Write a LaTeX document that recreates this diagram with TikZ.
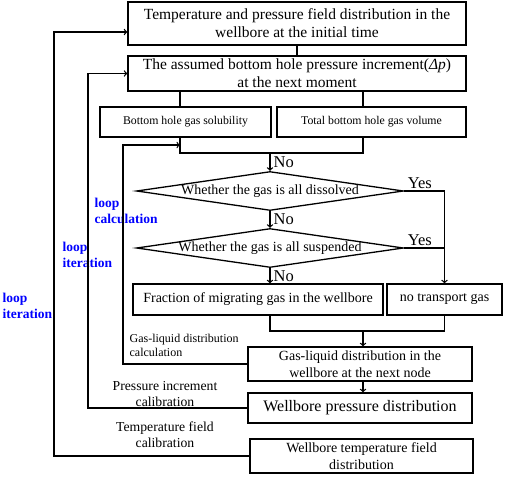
\documentclass[tikz,border=0pt]{standalone}
\usepackage{fontspec}
\setmainfont{Liberation Serif}
\usetikzlibrary{shapes.geometric}

\tikzset{every picture/.style={line width=1.3pt}}
\tikzset{
  procbox/.style={draw, rectangle, inner sep=1pt, align=center, font=\fontsize{14}{17}\selectfont},
  decbox/.style={draw, diamond, aspect=5.7, inner xsep=0pt, inner ysep=-3pt, minimum width=267, minimum height=39, font=\fontsize{14}{16}\selectfont},
  yesno/.style={inner sep=0pt, font=\fontsize{16.5}{18}\selectfont},
  looplabel/.style={inner sep=0pt, text=blue, align=left, font=\fontsize{13.5}{16}\selectfont\bfseries},
  calblabel/.style={inner sep=0pt, align=center, font=\fontsize{13.7}{16}\selectfont},
  arr/.style={->, >=to}
}

\begin{document}
\begin{tikzpicture}[x=1pt,y=1pt,yscale=-1,xscale=1]
\path[use as bounding box] (0,0) rectangle (505,476);

% main column
\node [procbox, minimum width=338, minimum height=43, font=\fontsize{15.5}{18}\selectfont] (init) at (297,23.5) {Temperature and pressure field distribution in the\\wellbore at the initial time};
\node [procbox, minimum width=338, minimum height=35, font=\fontsize{15.5}{18}\selectfont] (incr) at (297,73.5) {The assumed bottom hole pressure increment(\textit{Δp})\\at the next moment};
\node [procbox, minimum width=171, minimum height=30, font=\fontsize{11.8}{14}\selectfont] (solub) at (185.5,122) {Bottom hole gas solubility};
\node [procbox, minimum width=189, minimum height=30, font=\fontsize{11.8}{14}\selectfont] (volume) at (371.5,122) {Total bottom hole gas volume};

% decisions
\node [decbox] (diss) at (270,191) {Whether the gas is all dissolved};
\node [decbox] (susp) at (270,248) {Whether the gas is all suspended};

\node [procbox, minimum width=250, minimum height=31] (frac) at (258,299.5) {Fraction of migrating gas in the wellbore};
\node [procbox, minimum width=115, minimum height=31] (notrans) at (444.5,299.5) {no transport gas};
\node [procbox, minimum width=224, minimum height=34] (gld) at (360,364) {Gas-liquid distribution in the\\wellbore at the next node};
\node [procbox, minimum width=224, minimum height=30, font=\fontsize{16}{18}\selectfont] (press) at (360,408) {Wellbore pressure distribution};
\node [procbox, minimum width=223, minimum height=34] (temp) at (361.5,456) {Wellbore temperature field\\distribution};

% junction points
\coordinate (jl) at (180,153);
\coordinate (jr) at (363,153);
\coordinate (jt) at (180,145);
\coordinate (kb) at (363,331);
\coordinate (lo) at (54,0);
\coordinate (lm) at (88,0);
\coordinate (li) at (123,0);

% labels
\node [looplabel, anchor=west] (lcalc) at (94,211) {loop\\calculation};
\node [looplabel, anchor=west] (liter) at (62,255) {loop\\iteration};
\node [looplabel, anchor=west] (loiter) at (2,306) {loop\\iteration};
\node [calblabel, anchor=north west, align=left, font=\fontsize{12}{14}\selectfont] (gdlab) at (129,334) {Gas-liquid distribution\\calculation};
\node [calblabel] (pclab) at (165,394) {Pressure increment\\calibration};
\node [calblabel] (tclab) at (165,435) {Temperature field\\calibration};

% connectors
\draw (init.south) -- (incr.north);
\draw (incr.south -| jl) -- (solub.north -| jl);
\draw (incr.south -| jr) -- (volume.north -| jr);
\draw (solub.south -| jl) -- (jl) -- (jr) -- (volume.south -| jr);
\draw [arr] (jl -| diss.north) -- (diss.north) node [yesno, pos=0.5, anchor=west, xshift=3] (no1) {No};
\draw [arr] (diss.south) -- (susp.north) node [yesno, pos=0.5, anchor=west, xshift=3] (no2) {No};
\draw [arr] (susp.south) -- (susp.south |- frac.north) node [yesno, pos=0.5, anchor=west, xshift=3] (no3) {No};
\draw [arr] (diss.east) -| (notrans.north);
\draw (susp.east) -- (susp.east -| notrans.north);
\node [yesno, anchor=south west] (yes1) at ([xshift=3,yshift=-2]diss.east) {Yes};
\node [yesno, anchor=south west] (yes2) at ([xshift=3,yshift=-2]susp.east) {Yes};
\draw (susp.south |- frac.south) |- (kb) -| (notrans.south);
\draw [arr] (kb) -- (kb |- gld.north);
\draw [arr] (gld.south -| kb) -- (press.north -| kb);

% loops
\draw [arr] (gld.west) -| (li |- jt) -- (jt);
\draw [arr] (press.west) -| (lm |- incr.west) -- (incr.west);
\draw [arr] (temp.west) -| (lo |- 0,32) -- (init.west |- 0,32);

\end{tikzpicture}
\end{document}
